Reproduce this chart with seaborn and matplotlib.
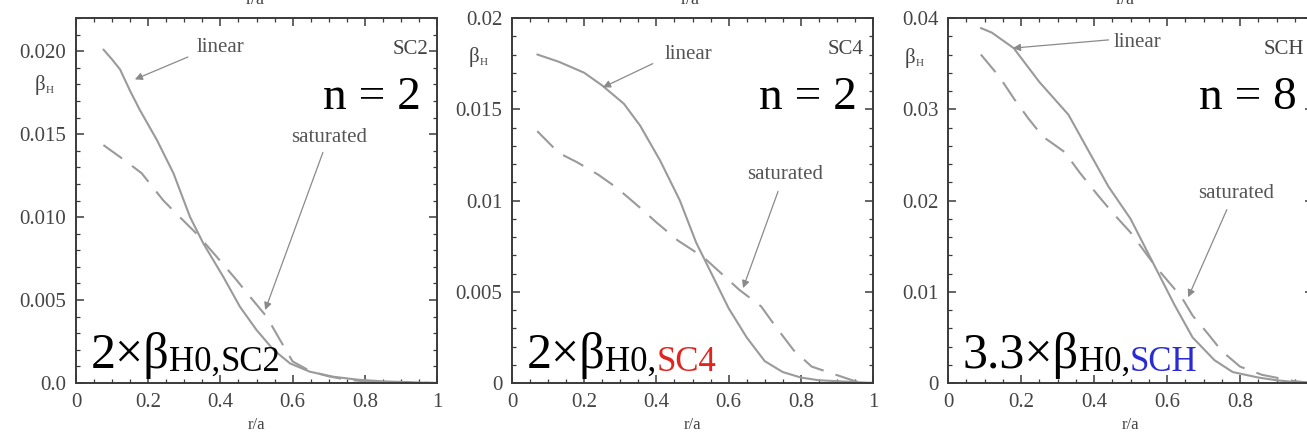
import matplotlib
matplotlib.use("Agg")
import matplotlib.pyplot as plt
import seaborn as sns
import pandas as pd

# ---- radial profiles of beta_H (r/a) for the three configurations ----
r_sc2_lin = [0.076, 0.10, 0.122, 0.15, 0.177, 0.224, 0.27, 0.316, 0.353, 0.408,
             0.454, 0.50, 0.547, 0.593, 0.648, 0.712, 0.78, 0.85, 0.92, 1.00]
b_sc2_lin = [0.0201, 0.0195, 0.0189, 0.0176, 0.01645, 0.01465, 0.01264, 0.0100,
             0.0084, 0.0064, 0.0046, 0.0032, 0.0020, 0.00118, 0.00068, 0.00038,
             0.0002, 0.0001, 0.00005, 0.0]
r_sc2_sat = [0.076, 0.14, 0.182, 0.242, 0.283, 0.334, 0.39, 0.445, 0.482, 0.528,
             0.565, 0.60, 0.65, 0.70, 0.75, 0.80, 0.88, 1.00]
b_sc2_sat = [0.01434, 0.01334, 0.01264, 0.0110, 0.0101, 0.0090, 0.0076, 0.0062,
             0.0052, 0.0040, 0.0026, 0.0013, 0.0007, 0.0004, 0.0002, 0.0001,
             0.00005, 0.0]

r_sc4_lin = [0.07, 0.13, 0.20, 0.25, 0.31, 0.355, 0.41, 0.465, 0.51, 0.55, 0.60,
             0.65, 0.70, 0.75, 0.80, 0.85, 0.90, 0.95, 1.00]
b_sc4_lin = [0.0180, 0.0176, 0.0170, 0.0163, 0.0153, 0.0141, 0.0122, 0.0100, 0.0077,
             0.0061, 0.0041, 0.0025, 0.0012, 0.0006, 0.0003, 0.00015, 0.0001, 0.00005, 0.0]
r_sc4_sat = [0.07, 0.13, 0.18, 0.24, 0.29, 0.355, 0.40, 0.46, 0.53, 0.58, 0.63,
             0.69, 0.73, 0.78, 0.83, 0.89, 0.95, 1.00]
b_sc4_sat = [0.0138, 0.0126, 0.0121, 0.0114, 0.0107, 0.0096, 0.0088, 0.0078, 0.0069,
             0.0060, 0.0051, 0.0042, 0.0031, 0.0018, 0.0009, 0.0005, 0.0001, 0.0]

r_sch_lin = [0.09, 0.12, 0.18, 0.25, 0.33, 0.38, 0.44, 0.50, 0.56, 0.62, 0.67,
             0.73, 0.78, 0.85, 0.90, 0.95, 1.00]
b_sch_lin = [0.0389, 0.0384, 0.0367, 0.0330, 0.0294, 0.0258, 0.0215, 0.0180, 0.0133,
             0.0086, 0.0050, 0.0025, 0.0012, 0.0006, 0.0003, 0.0001, 0.0]
r_sch_sat = [0.09, 0.14, 0.18, 0.22, 0.26, 0.32, 0.36, 0.41, 0.45, 0.50, 0.57,
             0.64, 0.67, 0.71, 0.75, 0.80, 0.86, 0.91, 0.95, 1.00]
b_sch_sat = [0.0360, 0.0336, 0.0312, 0.0290, 0.0270, 0.0253, 0.0231, 0.0206, 0.0187,
             0.0165, 0.0127, 0.0094, 0.0074, 0.0055, 0.0035, 0.0018, 0.0009, 0.0005,
             0.0002, 0.0]

config_names = ["SC2", "SC4", "SCH"]
mode_numbers = ["n = 2", "n = 2", "n = 8"]
scale_factors = ["2×β", "2×β", "3.3×β"]
config_colors = ["black", "#e3231f", "#2b2bd6"]
y_limits = [0.022, 0.02, 0.04]
y_ticks = [[0.0, 0.005, 0.010, 0.015, 0.020],
           [0.0, 0.005, 0.01, 0.015, 0.02],
           [0.0, 0.01, 0.02, 0.03, 0.04]]
y_ticklabels = [["0.0", "0.005", "0.010", "0.015", "0.020"],
                ["0", "0.005", "0.01", "0.015", "0.02"],
                ["0", "0.01", "0.02", "0.03", "0.04"]]
y_minor = [0.001, 0.001, 0.002]
x_ticks = [0, 0.2, 0.4, 0.6, 0.8, 1.0]
x_ticklabels = [["0", "0.2", "0.4", "0.6", "0.8", "1"],
                ["0", "0.2", "0.4", "0.6", "0.8", "1"],
                ["0", "0.2", "0.4", "0.6", "0.8", ""]]

# annotation anchors: (text position, arrow tail, arrow head) in data coords
linear_notes = [((0.40, 0.0202), (0.31, 0.01965), (0.163, 0.0183)),
                ((0.49, 0.0180), (0.39, 0.0175), (0.252, 0.0162)),
                ((0.52, 0.0373), (0.44, 0.0376), (0.178, 0.0367))]
saturated_notes = [((0.70, 0.0148), (0.684, 0.0139), (0.524, 0.0044)),
                   ((0.756, 0.0114), (0.737, 0.0105), (0.64, 0.0052)),
                   ((0.79, 0.0208), (0.764, 0.0190), (0.658, 0.0094))]

profiles = [(r_sc2_lin, b_sc2_lin, r_sc2_sat, b_sc2_sat),
            (r_sc4_lin, b_sc4_lin, r_sc4_sat, b_sc4_sat),
            (r_sch_lin, b_sch_lin, r_sch_sat, b_sch_sat)]

sns.set_theme(style="ticks")
serif = ["Liberation Serif", "DejaVu Serif"]
plt.rcParams["font.family"] = serif
plt.rcParams["axes.edgecolor"] = "#3a3a3a"
plt.rcParams["axes.linewidth"] = 1.4

W, H = 1307, 437
fig = plt.figure(figsize=(W / 100, H / 100), dpi=100)
fig.patch.set_facecolor("white")

lefts = [76, 512, 948]
widths = [361, 361, 365]
top_px, bottom_px = 18, 383
curve_color = "#9a9a9a"
label_gray = "#555555"

for i in range(3):
    ax = fig.add_axes([lefts[i] / W, (H - bottom_px) / H, widths[i] / W,
                       (bottom_px - top_px) / H])
    ax.set_facecolor("white")
    r_lin, b_lin, r_sat, b_sat = profiles[i]
    lin_df = pd.DataFrame({"r": r_lin, "beta": b_lin})
    sat_df = pd.DataFrame({"r": r_sat, "beta": b_sat})
    sns.lineplot(data=lin_df, x="r", y="beta", ax=ax, color=curve_color, lw=1.5)
    sns.lineplot(data=sat_df, x="r", y="beta", ax=ax, color=curve_color, lw=1.5)
    ax.lines[-1].set_dashes((11, 6))

    ax.set_xlim(0, 1)
    ax.set_ylim(0, y_limits[i])
    ax.set_xticks(x_ticks)
    ax.set_xticklabels(x_ticklabels[i])
    ax.set_yticks(y_ticks[i])
    ax.set_yticklabels(y_ticklabels[i])
    ax.xaxis.set_minor_locator(matplotlib.ticker.MultipleLocator(0.05))
    ax.yaxis.set_minor_locator(matplotlib.ticker.MultipleLocator(y_minor[i]))
    ax.tick_params(which="both", direction="in", top=True, right=True,
                   color="#3a3a3a", labelsize=15, labelcolor="#444444")
    ax.tick_params(which="major", length=6, width=1.1, pad=7)
    ax.tick_params(which="minor", length=3, width=0.9)
    ax.set_xlabel("")
    ax.set_ylabel("")
    for s in ax.spines.values():
        s.set_visible(True)

    # r/a axis title under each panel
    ax.text(0.5, -0.115, "r/a", transform=ax.transAxes, ha="center", va="center",
            fontsize=12, color="#444444")

    # curve labels with arrows
    (tx, ty), (ax0, ay0), (hx, hy) = linear_notes[i]
    ax.text(tx, ty, "linear", ha="center", va="center", fontsize=15, color=label_gray)
    ax.annotate("", xy=(hx, hy), xytext=(ax0, ay0),
                arrowprops=dict(arrowstyle="-|>", color="#8a8a8a", lw=0.9,
                                mutation_scale=11, shrinkA=0, shrinkB=0))
    (tx, ty), (ax0, ay0), (hx, hy) = saturated_notes[i]
    ax.text(tx, ty, "saturated", ha="center", va="center", fontsize=15, color=label_gray)
    ax.annotate("", xy=(hx, hy), xytext=(ax0, ay0),
                arrowprops=dict(arrowstyle="-|>", color="#8a8a8a", lw=0.9,
                                mutation_scale=11, shrinkA=0, shrinkB=0))

    # configuration name and toroidal mode number
    ax.text(0.975, 0.915, config_names[i], transform=ax.transAxes, ha="right",
            va="center", fontsize=15, color="#444444")
    ax.text(0.955, 0.75, mode_numbers[i], transform=ax.transAxes, ha="right",
            va="baseline", fontsize=34, color="black")

    # scaling label: factor × beta_H0,config
    t1 = ax.text(0.04, 0.041, scale_factors[i], transform=ax.transAxes, ha="left",
                 va="baseline", fontsize=36, color="black")
    t2 = ax.annotate("H0,", xy=(1, 0), xycoords=t1, ha="left", va="bottom",
                     fontsize=25, color="black")
    ax.annotate(config_names[i], xy=(1, 0), xycoords=t2, ha="left", va="bottom",
                fontsize=25, color=config_colors[i])

# beta_H axis labels beside each vertical axis
for xc, yc in [(40, 85), (474, 57), (910, 58)]:
    tb = fig.text(xc / W, 1 - yc / H, "β", ha="center", va="center", fontsize=15,
                  color="#444444")
    fig.add_artist(matplotlib.text.Annotation(
        "H", xy=(1, 0), xycoords=tb, ha="left", va="bottom", fontsize=8,
        color="#444444"))

# axis titles of the row above, cut by the top edge
for xc in [255, 690, 1125]:
    fig.text(xc / W, 1 - 4 / H, "r/a", ha="center", va="baseline", fontsize=13,
             color="#444444")

fig.savefig("out.png", dpi=100, facecolor="white")
